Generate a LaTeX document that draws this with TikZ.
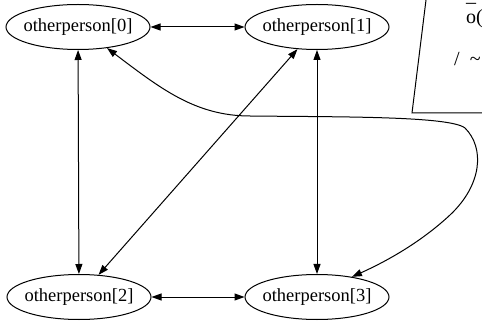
\documentclass[tikz,border=0pt]{standalone}
\usepackage{fontspec}
\setmainfont{Liberation Serif}
\usepackage{tikz}
\usetikzlibrary{arrows.meta,shapes.geometric}

\begin{document}
\begin{tikzpicture}[x=1pt,y=-1pt,
    person/.style={ellipse, draw, line width=1pt, minimum width=144pt, minimum height=45pt, inner xsep=-4pt, inner ysep=0pt, font=\fontsize{18.5}{22}\selectfont},
    link/.style={{Triangle[length=10pt,width=7pt]}-{Triangle[length=10pt,width=7pt]}, line width=1pt},
    notetext/.style={anchor=base west, inner sep=0pt, font=\fontsize{20}{24}\selectfont}]
    \useasboundingbox (0,0) rectangle (482,323);
    \clip (0,0) rectangle (482,323);

    % People
    \foreach \i/\x/\y in {0/78/27, 1/317/27, 2/79/297, 3/317/297}
        \node[person] (n\i) at (\x,\y) {otherperson[\i]};

    % Straight links
    \foreach \a/\b in {0/1, 0/2, 1/3, 1/2, 2/3}
        \draw[link] (n\a) -- (n\b);

    % Long way round from 0 to 3
    \draw[link] (n0.-36) .. controls (160,88) and (195,116) .. (250,116)
        .. controls (340,117) and (450,116) .. (465,128)
        .. controls (485,148) and (482,185) .. (450,215)
        .. controls (420,243) and (385,262) .. (n3.30);

    % Note in the corner (cut off)
    \draw[line width=1pt] (426,0) -- (412,113) -- (482,113);
    \node[notetext] (top) at (466,9) {– :};
    \node[notetext] (code) at (466,24) {o(};
    \node[notetext] (tail) at (454,66) {/\ \ \textasciitilde};
\end{tikzpicture}
\end{document}
